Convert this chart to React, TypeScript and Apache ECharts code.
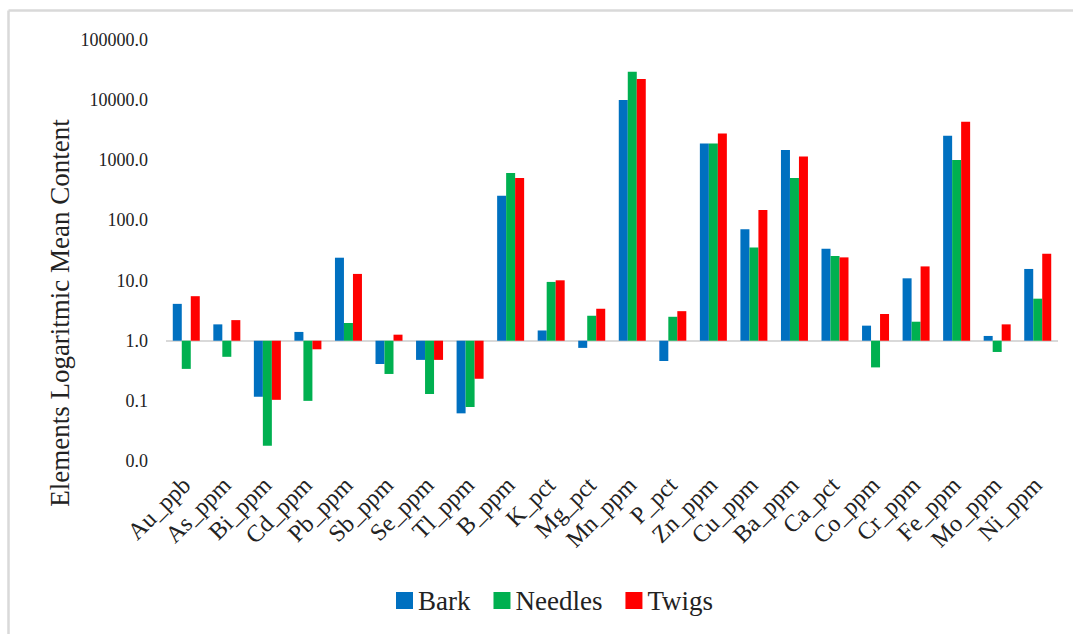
import React, { useEffect, useRef } from "react";
import * as echarts from "echarts";

const categories = [
  "Au_ppb", "As_ppm", "Bi_ppm", "Cd_ppm", "Pb_ppm", "Sb_ppm", "Se_ppm", "Tl_ppm",
  "B_ppm", "K_pct", "Mg_pct", "Mn_ppm", "P_pct", "Zn_ppm", "Cu_ppm", "Ba_ppm",
  "Ca_pct", "Co_ppm", "Cr_ppm", "Fe_ppm", "Mo_ppm", "Ni_ppm",
];

const bark = [
  4.1, 1.87, 0.117, 1.4, 24, 0.41, 0.48, 0.062,
  258, 1.48, 0.76, 10050, 0.46, 1909, 71, 1483,
  33.9, 1.78, 10.9, 2563, 1.2, 15.6,
];
const needles = [
  0.34, 0.54, 0.018, 0.1, 1.97, 0.28, 0.13, 0.079,
  614, 9.5, 2.6, 29700, 2.5, 1900, 35.6, 507,
  25.6, 0.36, 2.07, 1011, 0.65, 5.0,
];
const twigs = [
  5.5, 2.2, 0.104, 0.72, 12.9, 1.26, 0.48, 0.233,
  507, 10.1, 3.4, 22400, 3.1, 2800, 149, 1160,
  24.3, 2.78, 17.2, 4380, 1.87, 28,
];

const seriesNames = ["Bark", "Needles", "Twigs"];
const seriesColors = ["#0070C0", "#00B050", "#FF0000"];
const yTicks = [0.01, 0.1, 1, 10, 100, 1000, 10000, 100000];
const yAxisTitle = "Elements Logaritmic Mean Content";

const FONT = "Liberation Serif";

export default function App() {
  const ref = useRef<HTMLDivElement>(null);
  useEffect(() => {
    if (!ref.current) return;
    const chart = echarts.init(ref.current, null, { renderer: "svg" });
    const dataSets = [bark, needles, twigs];
    chart.setOption({
      animation: false,
      backgroundColor: "#ffffff",
      textStyle: { fontFamily: FONT },
      grid: { left: 166, right: 15, top: 40, bottom: 634 - 461, containLabel: false },
      legend: {
        data: seriesNames,
        left: 391,
        top: 582,
        itemWidth: 17,
        itemHeight: 17,
        itemGap: 23,
        icon: "rect",
        textStyle: { fontFamily: FONT, fontSize: 27, color: "#222222" },
      },
      xAxis: {
        type: "category",
        data: categories,
        axisLine: { show: false },
        axisTick: { show: false },
        axisLabel: {
          rotate: 45,
          interval: 0,
          margin: 20,
          fontFamily: FONT,
          fontSize: 24,
          color: "#222222",
        },
      },
      yAxis: {
        type: "log",
        logBase: 10,
        min: yTicks[0],
        max: yTicks[yTicks.length - 1],
        interval: 1,
        splitLine: { show: false },
        axisLine: { show: false },
        axisTick: { show: false },
        axisLabel: {
          margin: 18,
          fontFamily: FONT,
          fontSize: 18,
          color: "#222222",
          formatter: (v: number) => Number(v).toFixed(1),
        },
      },
      graphic: [
        {
          type: "line",
          shape: { x1: 8.5, y1: 10.5, x2: 1073, y2: 10.5 },
          style: { stroke: "#d9d9d9", lineWidth: 2.5 },
          silent: true,
        },
        {
          type: "line",
          shape: { x1: 8.5, y1: 10.5, x2: 8.5, y2: 634 },
          style: { stroke: "#d9d9d9", lineWidth: 2.5 },
          silent: true,
        },
        {
          type: "text",
          x: 60,
          y: 313,
          rotation: Math.PI / 2,
          style: {
            text: yAxisTitle,
            font: `27px "${FONT}"`,
            fill: "#222222",
            align: "center",
            verticalAlign: "middle",
          },
          silent: true,
        },
      ],
      series: seriesNames.map((name, i) => ({
        name,
        type: "bar",
        data: dataSets[i],
        barWidth: 9,
        barGap: "0%",
        itemStyle: { color: seriesColors[i] },
        z: 3,
        markLine:
          i === 0
            ? {
                silent: true,
                symbol: "none",
                label: { show: false },
                lineStyle: { color: "#d9d9d9", width: 2, type: "solid" },
                z: 2,
                data: [{ yAxis: 1 }],
              }
            : undefined,
      })),
    });
    return () => chart.dispose();
  }, []);
  return (
    <div
      ref={ref}
      style={{ position: "fixed", left: 0, top: 0, width: 1073, height: 634 }}
    />
  );
}
